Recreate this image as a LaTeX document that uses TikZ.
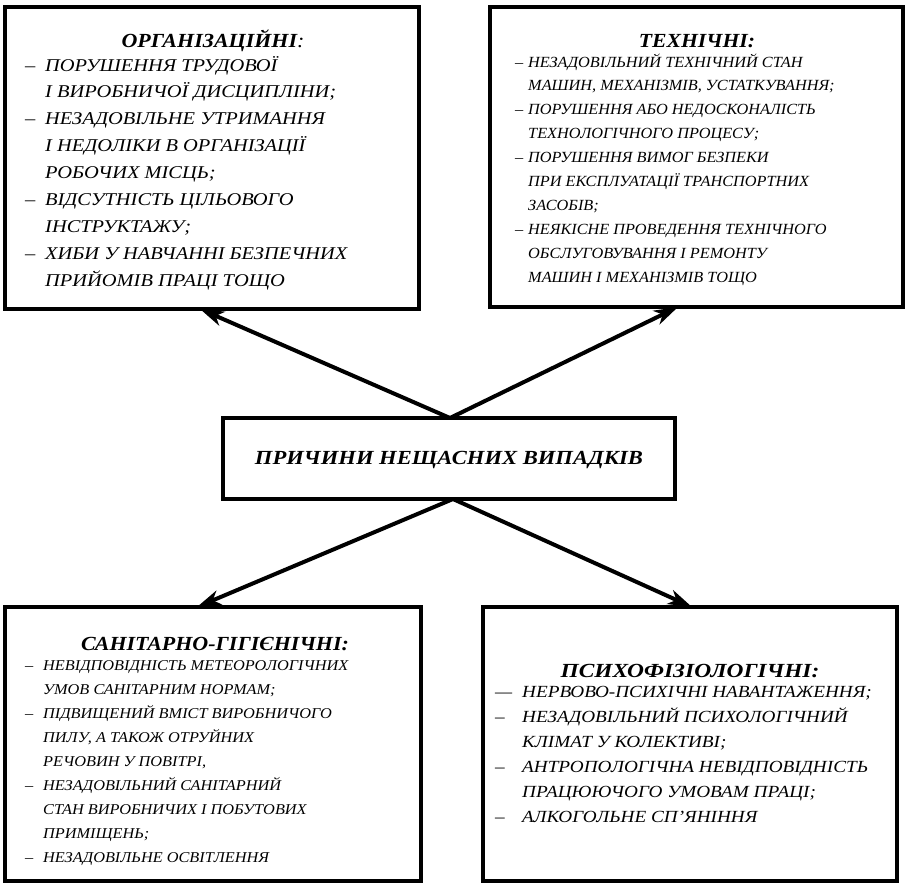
\documentclass[tikz,border=0pt]{standalone}
\usepackage{fontspec}
\setmainfont{Liberation Serif}
\usetikzlibrary{arrows.meta}
\newlength\dashw
\newcommand\D{\makebox[\dashw][l]{–}}
\newcommand\I{\hspace*{\dashw}}
\newcommand\fnt[2]{\fontsize{#1}{#1}\selectfont\addfontfeature{FakeStretch=#2}}
\tikzset{
  frame/.style={draw, line width=3.5pt, outer sep=0pt, inner sep=0pt, anchor=north west},
  ln/.style={anchor=base west, inner sep=0pt},
  ttl/.style={anchor=base, inner sep=0pt},
  arr/.style={line width=4pt, -{Stealth[length=24pt,width=15pt,inset=7pt]}}
}
\begin{document}
\begin{tikzpicture}[x=1pt,y=-1pt]
\useasboundingbox (0,0) rectangle (905,884);
% boxes
\node[frame, minimum width=414pt, minimum height=302pt] (TL) at (5,7) {};
\node[frame, minimum width=413pt, minimum height=300pt] (TR) at (490,7) {};
\node[frame, minimum width=452pt, minimum height=81pt] (C) at (223,418) {};
\node[frame, minimum width=416pt, minimum height=274pt] (BL) at (5,607) {};
\node[frame, minimum width=414pt, minimum height=274pt] (BR) at (483,607) {};
% center text
\node[inner sep=0pt, font=\bfseries\itshape\fnt{20}{1.13}] (ct) at (449,460) {ПРИЧИНИ НЕЩАСНИХ ВИПАДКІВ};
% top-left
\node[ttl, font=\bfseries\itshape\fnt{20}{1.10}] (tlt) at (213,47) {ОРГАНІЗАЦІЙНІ\textmd{:}};
\setlength{\dashw}{20pt}
\foreach \t [count=\i from 0] in {
  {\D ПОРУШЕННЯ ТРУДОВОЇ},
  {\I І ВИРОБНИЧОЇ ДИСЦИПЛІНИ;},
  {\D НЕЗАДОВІЛЬНЕ УТРИМАННЯ},
  {\I І НЕДОЛІКИ В ОРГАНІЗАЦІЇ},
  {\I РОБОЧИХ МІСЦЬ;},
  {\D ВІДСУТНІСТЬ ЦІЛЬОВОГО},
  {\I ІНСТРУКТАЖУ;},
  {\D ХИБИ У НАВЧАННІ БЕЗПЕЧНИХ},
  {\I ПРИЙОМІВ ПРАЦІ ТОЩО}}
  \node[ln, font=\itshape\fnt{18}{1.135}] (tl\i) at (25,71+26.9*\i) {\t};
% top-right
\node[ttl, font=\bfseries\itshape\fnt{20}{1.085}] (trt) at (697,47) {ТЕХНІЧНІ:};
\setlength{\dashw}{13pt}
\foreach \t [count=\i from 0] in {
  {\D НЕЗАДОВІЛЬНИЙ ТЕХНІЧНИЙ СТАН},
  {\I МАШИН, МЕХАНІЗМІВ, УСТАТКУВАННЯ;},
  {\D ПОРУШЕННЯ АБО НЕДОСКОНАЛІСТЬ},
  {\I ТЕХНОЛОГІЧНОГО ПРОЦЕСУ;},
  {\D ПОРУШЕННЯ ВИМОГ БЕЗПЕКИ},
  {\I ПРИ ЕКСПЛУАТАЦІЇ ТРАНСПОРТНИХ},
  {\I ЗАСОБІВ;},
  {\D НЕЯКІСНЕ ПРОВЕДЕННЯ ТЕХНІЧНОГО},
  {\I ОБСЛУГОВУВАННЯ І РЕМОНТУ},
  {\I МАШИН І МЕХАНІЗМІВ ТОЩО}}
  \node[ln, font=\itshape\fnt{15.5}{1.05}] (tr\i) at (515,67+23.9*\i) {\t};
% bottom-left
\node[ttl, font=\bfseries\itshape\fnt{20}{1.10}] (blt) at (215,650) {САНІТАРНО-ГІГІЄНІЧНІ:};
\setlength{\dashw}{18pt}
\foreach \t [count=\i from 0] in {
  {\D НЕВІДПОВІДНІСТЬ МЕТЕОРОЛОГІЧНИХ},
  {\I УМОВ САНІТАРНИМ НОРМАМ;},
  {\D ПІДВИЩЕНИЙ ВМІСТ ВИРОБНИЧОГО},
  {\I ПИЛУ, А ТАКОЖ ОТРУЙНИХ},
  {\I РЕЧОВИН У ПОВІТРІ,},
  {\D НЕЗАДОВІЛЬНИЙ САНІТАРНИЙ},
  {\I СТАН ВИРОБНИЧИХ І ПОБУТОВИХ},
  {\I ПРИМІЩЕНЬ;},
  {\D НЕЗАДОВІЛЬНЕ ОСВІТЛЕННЯ}}
  \node[ln, font=\itshape\fnt{15}{1.086}] (bl\i) at (25,670+24*\i) {\t};
% bottom-right
\node[ttl, font=\bfseries\itshape\fnt{20}{1.17}] (brt) at (690,677) {ПСИХОФІЗІОЛОГІЧНІ:};
\setlength{\dashw}{27pt}
\foreach \t [count=\i from 0] in {
  {\makebox[\dashw][l]{—}НЕРВОВО-ПСИХІЧНІ НАВАНТАЖЕННЯ;},
  {\D НЕЗАДОВІЛЬНИЙ ПСИХОЛОГІЧНИЙ},
  {\I КЛІМАТ У КОЛЕКТИВІ;},
  {\D АНТРОПОЛОГІЧНА НЕВІДПОВІДНІСТЬ},
  {\I ПРАЦЮЮЧОГО УМОВАМ ПРАЦІ;},
  {\D АЛКОГОЛЬНЕ СП'ЯНІННЯ}}
  \node[ln, font=\itshape\fnt{17}{1.13}] (br\i) at (495,697+25*\i) {\t};
% arrows
\draw[arr] ([xshift=227pt]C.north west) -- ([xshift=195pt]TL.south west);
\draw[arr] ([xshift=227pt]C.north west) -- ([xshift=188pt]TR.south west);
\draw[arr] ([xshift=230pt]C.south west) -- ([xshift=192pt]BL.north west);
\draw[arr] ([xshift=230pt]C.south west) -- ([xshift=209pt]BR.north west);
\end{tikzpicture}
\end{document}
